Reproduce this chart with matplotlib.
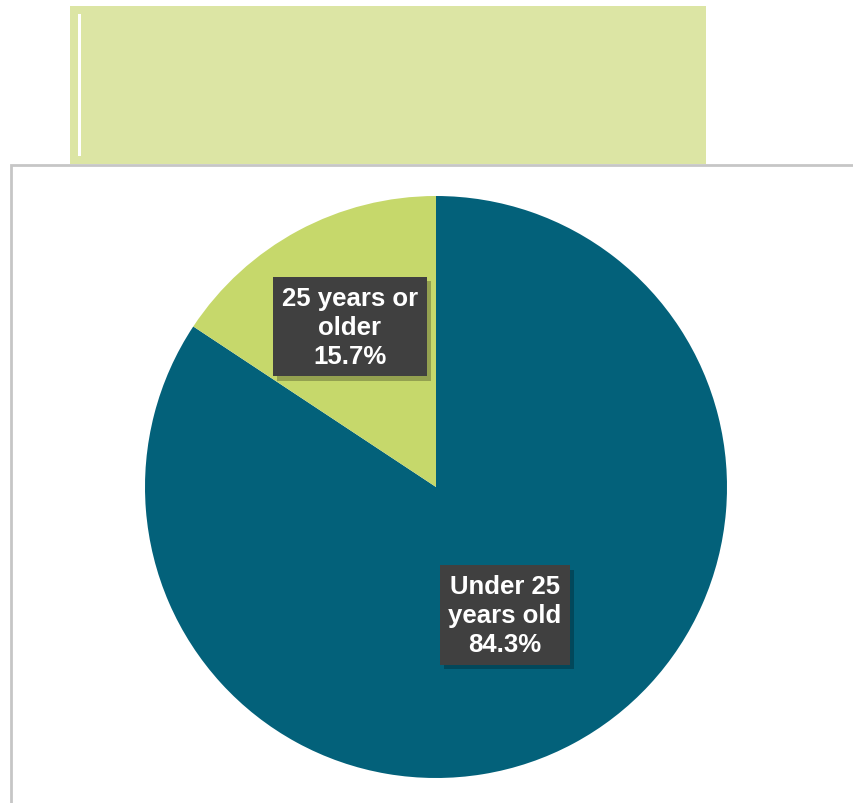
import matplotlib.pyplot as plt
import matplotlib.patheffects as pe
from matplotlib.patches import Rectangle
import numpy as np

plt.rcParams["font.family"] = ["Liberation Sans", "DejaVu Sans"]

labels = ['Under 25\nyears old', '25 years or\nolder']
shares = [84.3, 15.7]
colors = ['#03617A', '#C6D86B']
label_dist = [0.5, 0.625]

W, H = 854, 804
fig = plt.figure(figsize=(W / 100, H / 100), dpi=100)

# banner and frame (figure pixel coords, y from top)
def px_rect(x0, y0, x1, y1, **kw):
    r = Rectangle((x0 / W, 1 - y1 / H), (x1 - x0) / W, (y1 - y0) / H,
                  transform=fig.transFigure, **kw)
    fig.add_artist(r)

px_rect(70, 7, 706, 165, fc='#DCE5A4', ec='none')
px_rect(78, 15, 81, 157, fc='white', ec='none')
px_rect(11, 166, 870, 830, fc='none', ec='#C6C6C6', lw=2)

# pie
cx, cy, R = 436, 488, 291
ax = fig.add_axes([(cx - R) / W, 1 - (cy + R) / H, 2 * R / W, 2 * R / H])
wedges, _ = ax.pie(shares, colors=colors, startangle=90, counterclock=False,
                   wedgeprops=dict(linewidth=0))
ax.set_xlim(-1, 1)
ax.set_ylim(-1, 1)
ax.set_aspect('equal')

for w, lab, val, d in zip(wedges, labels, shares, label_dist):
    ang = np.deg2rad((w.theta1 + w.theta2) / 2)
    x, y = d * np.cos(ang), d * np.sin(ang)
    t = ax.text(x, y, f'{lab}\n{val:.1f}%', ha='center', va='center',
                fontsize=18.5, fontweight='bold', color='white', linespacing=1.26,
                bbox=dict(boxstyle='square,pad=0.34', fc='#404040', ec='none'))
    t.get_bbox_patch().set_path_effects([
        pe.SimplePatchShadow(offset=(3, -3), shadow_rgbFace='black', alpha=0.25),
        pe.Normal()])

fig.savefig('out.png', dpi=100)
